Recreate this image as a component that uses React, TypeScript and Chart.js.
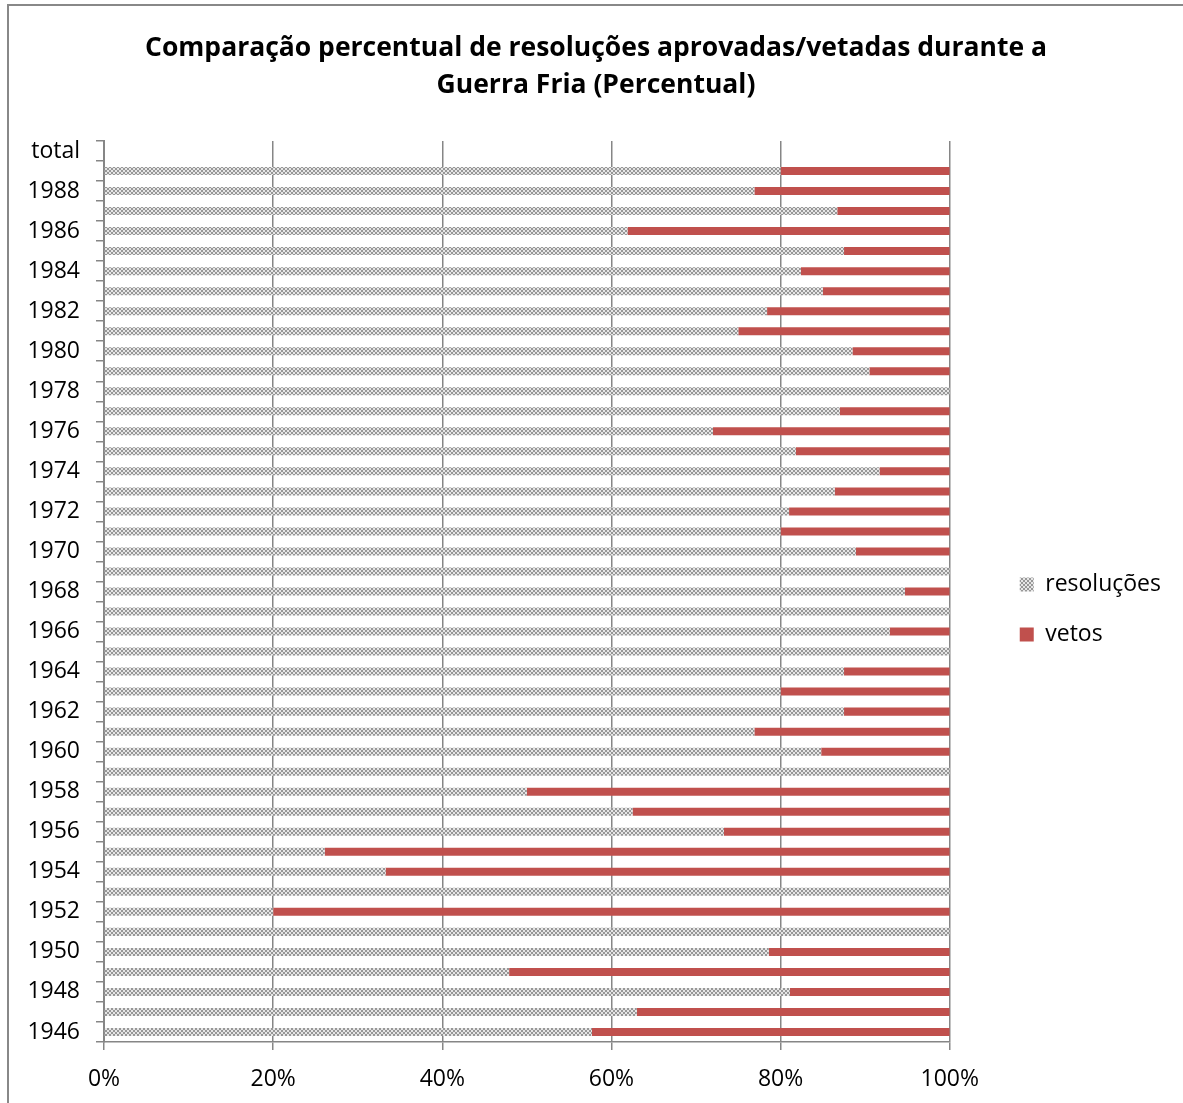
import { useEffect, useRef } from 'react';
import { Chart, registerables } from 'chart.js';

Chart.register(...registerables);

// Years on the category axis (bottom to top), plus the summary row.
const categories = [
  '1946', '1947', '1948', '1949', '1950', '1951', '1952', '1953', '1954', '1955',
  '1956', '1957', '1958', '1959', '1960', '1961', '1962', '1963', '1964', '1965',
  '1966', '1967', '1968', '1969', '1970', '1971', '1972', '1973', '1974', '1975',
  '1976', '1977', '1978', '1979', '1980', '1981', '1982', '1983', '1984', '1985',
  '1986', '1987', '1988', '1989', 'total',
];

// Share of approved resolutions per year (%).
const resolucoes = [
  57.7, 63, 81.1, 47.9, 78.6, 100, 20, 100, 33.3, 26.1,
  73.3, 62.5, 50, 100, 84.8, 76.9, 87.5, 80, 87.5, 100,
  92.9, 100, 94.7, 100, 88.9, 80, 81, 86.4, 91.7, 81.8,
  72, 87, 100, 90.5, 88.5, 75, 78.4, 85, 82.4, 87.5,
  61.9, 86.7, 76.9, 80, null,
];

// Share of vetoed drafts per year (%).
const vetos = [
  42.3, 37, 18.9, 52.1, 21.4, 0, 80, 0, 66.7, 73.9,
  26.7, 37.5, 50, 0, 15.2, 23.1, 12.5, 20, 12.5, 0,
  7.1, 0, 5.3, 0, 11.1, 20, 19, 13.6, 8.3, 18.2,
  28, 13, 0, 9.5, 11.5, 25, 21.6, 15, 17.6, 12.5,
  38.1, 13.3, 23.1, 20, null,
];

const xTickValues = [0, 20, 40, 60, 80, 100];

const titleLines = [
  'Comparação percentual de resoluções aprovadas/vetadas durante a',
  'Guerra Fria (Percentual)',
];

const FONT = '"Open Sans", "Noto Sans", "DejaVu Sans", sans-serif';
const AXIS_GRAY = '#868686';
const VETO_RED = '#C0504D';

// Small grey checkerboard used as the fill of the "resoluções" series.
function makeChecker(): CanvasPattern | string {
  const c = document.createElement('canvas');
  c.width = 4;
  c.height = 4;
  const g = c.getContext('2d');
  if (!g) return '#bdbdbd';
  g.fillStyle = '#e6e6e6';
  g.fillRect(0, 0, 4, 4);
  g.fillStyle = '#979797';
  g.fillRect(0, 0, 2, 2);
  g.fillRect(2, 2, 2, 2);
  return g.createPattern(c, 'repeat') || '#bdbdbd';
}

export default function App() {
  const canvasRef = useRef<HTMLCanvasElement | null>(null);

  useEffect(() => {
    const canvas = canvasRef.current;
    if (!canvas) return;
    Chart.defaults.font.family = FONT;
    const checker = makeChecker();

    const chart = new Chart(canvas, {
      type: 'bar',
      data: {
        labels: categories,
        datasets: [
          {
            label: 'resoluções',
            data: resolucoes,
            backgroundColor: checker as any,
            borderWidth: 0,
            categoryPercentage: 0.4,
            barPercentage: 1,
          },
          {
            label: 'vetos',
            data: vetos,
            backgroundColor: VETO_RED,
            borderWidth: 0,
            categoryPercentage: 0.4,
            barPercentage: 1,
          },
        ],
      },
      options: {
        indexAxis: 'y',
        animation: false,
        responsive: true,
        maintainAspectRatio: false,
        layout: { padding: { left: 12, right: 12, top: 0, bottom: 12 } },
        plugins: {
          title: {
            display: true,
            text: titleLines,
            color: '#000',
            font: { size: 26.5, weight: 'bold', lineHeight: 1.396 },
            padding: { top: 24, bottom: 37 },
          },
          legend: {
            position: 'right',
            title: {
              display: true,
              text: '',
              padding: { top: 121, bottom: 0 },
              font: { size: 1, lineHeight: 1 },
            },
            labels: {
              boxWidth: 14,
              boxHeight: 14,
              padding: 27,
              color: '#000',
              font: { size: 23 },
            },
          },
          tooltip: { enabled: false },
        },
        scales: {
          x: {
            stacked: true,
            min: 0,
            max: 100,
            afterBuildTicks: (s: any) => {
              s.ticks = xTickValues.map((v) => ({ value: v }));
            },
            ticks: {
              color: '#000',
              font: { size: 23 },
              padding: 16,
              callback: (v: any) => `${v}%`,
            },
            grid: { color: AXIS_GRAY, lineWidth: 1.5, tickLength: 8, drawTicks: true },
            border: { color: AXIS_GRAY, width: 1.5 },
            afterFit: (s: any) => {
              s.height = 49;
            },
          },
          y: {
            stacked: true,
            reverse: true,
            ticks: {
              autoSkip: false,
              color: '#000',
              font: { size: 23 },
              padding: 16,
              callback: (_v: any, i: number) => (i % 2 === 0 ? categories[i] : ''),
            },
            grid: {
              offset: true,
              drawOnChartArea: false,
              drawTicks: true,
              tickLength: 8,
              lineWidth: 1.5,
              color: AXIS_GRAY,
            },
            border: { color: AXIS_GRAY, width: 2 },
            afterFit: (s: any) => {
              s.width = 83;
              s.paddingTop = 0;
              s.paddingBottom = 0;
            },
          },
          // empty strip between the plot and the legend
          gap: {
            axis: 'y',
            type: 'linear',
            position: 'right',
            display: true,
            ticks: { display: false },
            grid: { display: false },
            border: { display: false },
            afterFit: (s: any) => {
              s.width = 43;
              s.paddingTop = 0;
              s.paddingBottom = 0;
            },
          } as any,
        },
      },
    });

    return () => chart.destroy();
  }, []);

  return (
    <div
      style={{
        position: 'absolute',
        left: 7,
        top: 4,
        width: 1176,
        height: 1099,
        boxSizing: 'border-box',
        borderTop: '2px solid #888',
        borderLeft: '2px solid #888',
        background: '#fff',
      }}
    >
      <div style={{ position: 'relative', width: 1174, height: 1097 }}>
        <canvas ref={canvasRef} />
      </div>
    </div>
  );
}
